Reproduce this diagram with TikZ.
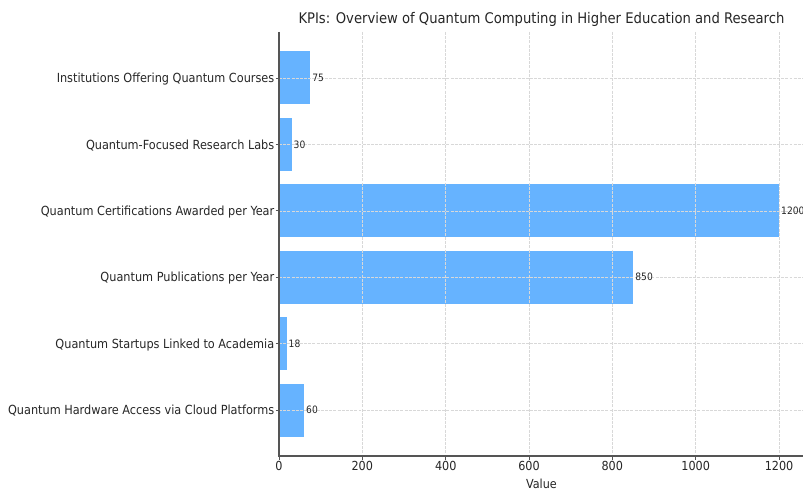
\documentclass[tikz,border=0pt]{standalone}
\usepackage{fontspec}
\setmainfont{DejaVu Sans Condensed}
\usetikzlibrary{positioning}
\definecolor{barblue}{HTML}{66B3FF}
\definecolor{gridgray}{HTML}{D8D8D8}
\definecolor{axisgray}{HTML}{555555}
\definecolor{textgray}{HTML}{262626}
\tikzset{x=1bp, y=-1bp,
bar/.style={fill=barblue, draw=none},
grid line/.style={gridgray, dash pattern=on 3pt off 1.2pt, line width=0.6pt},
axis line/.style={axisgray, line width=1.2pt},
tick mark/.style={axisgray, line width=0.7pt},
ytick label/.style={anchor=east, inner sep=0pt, yshift=-1bp, text=textgray, font=\fontsize{12.6}{14}\selectfont},
xtick label/.style={anchor=north, inner sep=0pt, text=textgray, font=\fontsize{12.5}{14}\selectfont},
value label/.style={anchor=west, inner sep=0pt, text=textgray, font=\fontsize{10.2}{12}\selectfont}}

\begin{document}
\begin{tikzpicture}
	\useasboundingbox (0,0) rectangle (803,491);
	% bars: x = 279 + value * 500/1200
	\fill[bar] (279,51.5) rectangle (310.25,104.5);
	\fill[bar] (279,117.9) rectangle (291.5,170.9);
	\fill[bar] (279,184.3) rectangle (779,237.3);
	\fill[bar] (279,250.7) rectangle (633.2,303.7);
	\fill[bar] (279,317.1) rectangle (286.5,370.1);
	\fill[bar] (279,383.5) rectangle (304,436.5);
	% grid
	\draw[grid line] (279,78) -- (803,78);
	\draw[grid line] (279,144.4) -- (803,144.4);
	\draw[grid line] (279,210.8) -- (803,210.8);
	\draw[grid line] (279,277.2) -- (803,277.2);
	\draw[grid line] (279,343.6) -- (803,343.6);
	\draw[grid line] (279,410) -- (803,410);
	\draw[grid line] (362.3,32) -- (362.3,456);
	\draw[grid line] (445.7,32) -- (445.7,456);
	\draw[grid line] (529,32) -- (529,456);
	\draw[grid line] (612.3,32) -- (612.3,456);
	\draw[grid line] (695.7,32) -- (695.7,456);
	\draw[grid line] (779,32) -- (779,456);
	% axes
	\coordinate (origin) at (279,456);
	\coordinate (ytop) at (279,32);
	\coordinate (xend) at (805,456);
	\draw[axis line] (ytop) -- (origin) -- (xend);
	% y ticks and labels
	\node[ytick label] (k1) at (274.5,78) {Institutions Offering Quantum Courses};
	\node[ytick label] (k2) at (274.5,144.4) {Quantum-Focused Research Labs};
	\node[ytick label] (k3) at (274.5,210.8) {Quantum Certifications Awarded per Year};
	\node[ytick label] (k4) at (274.5,277.2) {Quantum Publications per Year};
	\node[ytick label] (k5) at (274.5,343.6) {Quantum Startups Linked to Academia};
	\node[ytick label] (k6) at (274.5,410) {Quantum Hardware Access via Cloud Platforms};
	\draw[tick mark] (275.5,78) -- (279,78);
	\draw[tick mark] (275.5,144.4) -- (279,144.4);
	\draw[tick mark] (275.5,210.8) -- (279,210.8);
	\draw[tick mark] (275.5,277.2) -- (279,277.2);
	\draw[tick mark] (275.5,343.6) -- (279,343.6);
	\draw[tick mark] (275.5,410) -- (279,410);
	% value labels
	\node[value label] (v1) at (312.2,78) {75};
	\node[value label] (v2) at (293.5,144.4) {30};
	\node[value label] (v3) at (781,210.8) {1200};
	\node[value label] (v4) at (635.2,277.2) {850};
	\node[value label] (v5) at (288.5,343.6) {18};
	\node[value label] (v6) at (306,410) {60};
	% x ticks and labels
	\draw[tick mark] (279,456) -- (279,460);
	\draw[tick mark] (362.3,456) -- (362.3,460);
	\draw[tick mark] (445.7,456) -- (445.7,460);
	\draw[tick mark] (529,456) -- (529,460);
	\draw[tick mark] (612.3,456) -- (612.3,460);
	\draw[tick mark] (695.7,456) -- (695.7,460);
	\draw[tick mark] (779,456) -- (779,460);
	\node[xtick label] (t0) at (279,461.5) {0};
	\node[xtick label] (t200) at (362.3,461.5) {200};
	\node[xtick label] (t400) at (445.7,461.5) {400};
	\node[xtick label] (t600) at (529,461.5) {600};
	\node[xtick label] (t800) at (612.3,461.5) {800};
	\node[xtick label] (t1000) at (695.7,461.5) {1000};
	\node[xtick label] (t1200) at (779,461.5) {1200};
	\node[xtick label] (xlabel) at (541.5,478.5) {Value};
	\node[text=textgray, font=\fontsize{14.7}{17}\selectfont] (title) at (541.5,19) {KPIs: Overview of Quantum Computing in Higher Education and Research};
\end{tikzpicture}
\end{document}
